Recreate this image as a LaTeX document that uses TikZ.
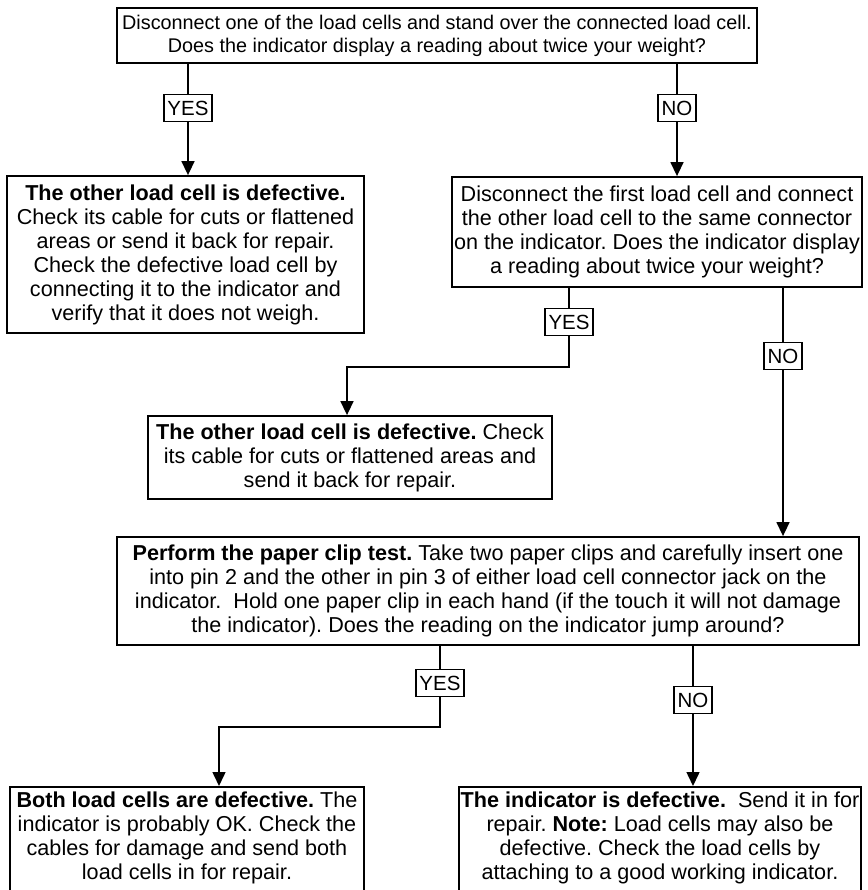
\documentclass[tikz,border=0pt]{standalone}
\usepackage{fontspec}
\setmainfont{Liberation Sans}
\usetikzlibrary{arrows.meta}
\frenchspacing
\begin{document}
\begin{tikzpicture}[x=1pt,y=-1pt,
  box/.style={draw, line width=1.8pt, inner sep=0pt, align=center,
    font=\fontsize{21.6}{24}\selectfont},
  topbox/.style={box, font=\fontsize{19.8}{23}\selectfont},
  lbl/.style={draw, line width=1.4pt, fill=white, inner xsep=3.5pt, inner ysep=0pt,
    minimum height=27pt, font=\fontsize{20.5}{24}\selectfont},
  conn/.style={line width=1.5pt},
  arr/.style={line width=1.5pt, -{Triangle[length=14pt,width=13pt]}}]
\useasboundingbox (0,0) rectangle (867,890);

\node[topbox, minimum width=640pt, minimum height=55pt] (T) at (437,35.5)
  {Disconnect one of the load cells and stand over the connected load cell.\\
   Does the indicator display a reading about twice your weight?};

\node[box, minimum width=357pt, minimum height=157pt] (A) at (185.5,254.5)
  {\textbf{The other load cell is defective.}\\
   Check its cable for cuts or flattened\\
   areas or send it back for repair.\\
   Check the defective load cell by\\
   connecting it to the indicator and\\
   verify that it does not weigh.};

\node[box, minimum width=410pt, minimum height=110pt] (B) at (657,232)
  {Disconnect the first load cell and connect\\
   the other load cell to the same connector\\
   on the indicator. Does the indicator display\\
   a reading about twice your weight?};

\node[box, minimum width=404pt, minimum height=83pt] (C) at (350,457.5)
  {\textbf{The other load cell is defective.} Check\\
   its cable for cuts or flattened areas and\\
   send it back for repair.};

\node[box, minimum width=742pt, minimum height=108pt] (D) at (488,591)
  {\textbf{Perform the paper clip test.} Take two paper clips and carefully insert one\\
   into pin 2 and the other in pin 3 of either load cell connector jack on the\\
   indicator.\ \ Hold one paper clip in each hand (if the touch it will not damage\\
   the indicator). Does the reading on the indicator jump around?};

\node[box, minimum width=354pt, minimum height=142pt, anchor=north] (E) at (187,786)
  {\textbf{Both load cells are defective.} The\\
   indicator is probably OK. Check the\\
   cables for damage and send both\\
   load cells in for repair.\\[20pt]\mbox{}};

\node[box, minimum width=402pt, minimum height=142pt, anchor=north] (F) at (660,786)
  {\textbf{The indicator is defective.}\ \ Send it in for\\
   repair. \textbf{Note:} Load cells may also be\\
   defective. Check the load cells by\\
   attaching to a good working indicator.\\[20pt]\mbox{}};

% labels
\node[lbl] (yes1) at (188,108) {YES};
\node[lbl] (no1) at (677,108) {NO};
\node[lbl] (yes2) at (569,322) {YES};
\node[lbl] (no2) at (783,356) {NO};
\node[lbl] (yes3) at (440,683) {YES};
\node[lbl] (no3) at (693,700) {NO};

\coordinate (j2) at (569,367);
\coordinate (j3) at (440,727);

% connectors
\draw[conn] (T.south -| yes1) -- (yes1);
\draw[arr] (yes1) -- (A.north -| yes1);
\draw[conn] (T.south -| no1) -- (no1);
\draw[arr] (no1) -- (B.north -| no1);

\draw[conn] (B.south -| yes2) -- (yes2);
\draw[arr] (yes2) -- (j2) -| ([xshift=-3pt]C.north);
\draw[conn] (B.south -| no2) -- (no2);
\draw[arr] (no2) -- (D.north -| no2);

\draw[conn] (D.south -| yes3) -- (yes3);
\draw[arr] (yes3) -- (j3) -| ([xshift=32pt]E.north);
\draw[conn] (D.south -| no3) -- (no3);
\draw[arr] (no3) -- (F.north -| no3);
\end{tikzpicture}
\end{document}
